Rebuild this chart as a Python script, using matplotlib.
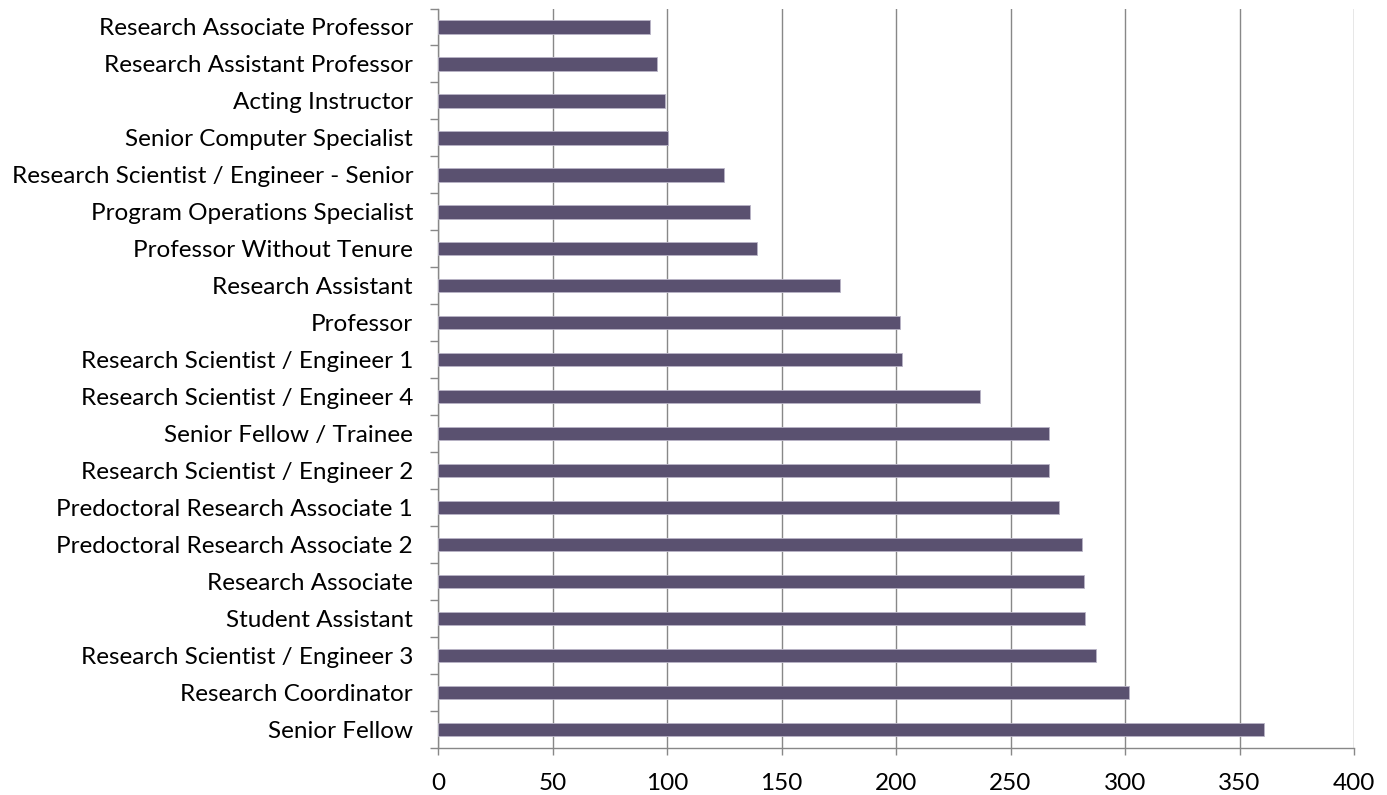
import matplotlib
matplotlib.use("Agg")
import matplotlib.pyplot as plt
import numpy as np

categories = [
    "Senior Fellow",
    "Research Coordinator",
    "Research Scientist / Engineer 3",
    "Student Assistant",
    "Research Associate",
    "Predoctoral Research Associate 2",
    "Predoctoral Research Associate 1",
    "Research Scientist / Engineer 2",
    "Senior Fellow / Trainee",
    "Research Scientist / Engineer 4",
    "Research Scientist / Engineer 1",
    "Professor",
    "Research Assistant",
    "Professor Without Tenure",
    "Program Operations Specialist",
    "Research Scientist / Engineer - Senior",
    "Senior Computer Specialist",
    "Acting Instructor",
    "Research Assistant Professor",
    "Research Associate Professor",
]
values = [360.7, 301.9, 287.3, 282.6, 282.2, 281.3, 271.1, 266.8, 266.9, 236.7,
          202.7, 201.8, 175.7, 139.5, 136.4, 124.7, 100.4, 99.0, 95.5, 92.4]
xticks = [0, 50, 100, 150, 200, 250, 300, 350, 400]

plt.rcParams['font.family'] = ['Lato', 'DejaVu Sans']

W, H = 1387, 795
fig = plt.figure(figsize=(W / 100, H / 100), dpi=100)
ax = fig.add_axes([438 / W, 1 - 748 / H, (1354 - 438) / W, (748 - 8.5) / H])

y = np.arange(len(categories))
ax.barh(y, values, height=0.36, color="#5A5170", edgecolor="#B9B4C6", linewidth=0.6, zorder=3)

ax.set_xlim(0, 400)
ax.set_ylim(-0.5, len(categories) - 0.5)
ax.set_xticks(xticks)
ax.set_xticklabels([str(t) for t in xticks], fontsize=17.5)
ax.set_yticks(y)
ax.set_yticklabels(categories, fontsize=17.5)
ax.set_yticks(np.arange(-0.5, len(categories), 1.0), minor=True)
ax.tick_params(axis='y', which='major', length=0, pad=18)
ax.tick_params(axis='y', which='minor', length=6, color="#888888", width=1.0)
ax.tick_params(axis='x', which='major', length=5, color="#888888", width=1.0, pad=13)

ax.grid(axis='x', color="#888888", linewidth=1.0, zorder=0)
ax.set_axisbelow(True)
for s in ['top', 'right']:
    ax.spines[s].set_visible(False)
for s in ['left', 'bottom']:
    ax.spines[s].set_color("#888888")
    ax.spines[s].set_linewidth(1.0)

fig.savefig("out.png", dpi=100, facecolor="white")
